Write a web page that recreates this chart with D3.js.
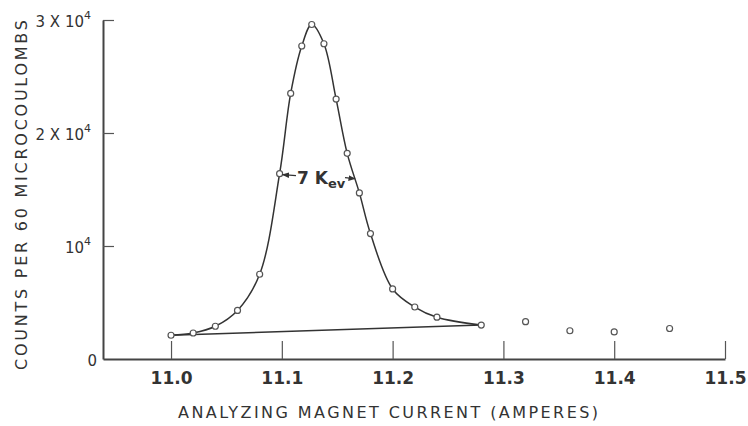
<!DOCTYPE html>
<html>
<head>
<meta charset="utf-8">
<script src="https://cdn.jsdelivr.net/npm/d3@7"></script>
<style>
    body { margin: 0; background: #fff; }
    #chart { width: 748px; height: 426px; }
    text { font-family: "DejaVu Sans", "Liberation Sans", sans-serif; fill: #333; }
</style>
</head>
<body>
<div id="chart"></div>
<script>

// peak scan (points joined by the smooth curve)
var peakCurrent = [11.0, 11.02, 11.04, 11.06, 11.08, 11.098, 11.108, 11.118, 11.127, 11.138, 11.149, 11.159, 11.17, 11.18, 11.2, 11.22, 11.24, 11.28];
var peakCounts = [2100, 2300, 2900, 4300, 7500, 16400, 23500, 27700, 29600, 27900, 23000, 18200, 14700, 11100, 6200, 4600, 3700, 3000];

// points past the peak, not joined
var tailCurrent = [11.32, 11.36, 11.40, 11.45];
var tailCounts = [3300, 2500, 2400, 2700];

var xTicks = [11.0, 11.1, 11.2, 11.3, 11.4, 11.5];
var xTickLabels = ["11.0", "11.1", "11.2", "11.3", "11.4", "11.5"];
var yTicks = [0, 10000, 20000, 30000];
var yTickBase = ["0", "10", "2 X 10", "3 X 10"];
var yTickExp = ["", "4", "4", "4"];

var chart = {};
chart.width = 748;
chart.height = 426;

chart.svg = d3.select("#chart")
    .append("svg")
    .attr("width", chart.width)
    .attr("height", chart.height);

/*
SCALES
*/
chart.xScale = d3.scaleLinear()
    .domain([10.9386, 11.5])
    .range([103, 725]);

chart.yScale = d3.scaleLinear()
    .domain([0, 30000])
    .range([359, 20]);

/*
AXES
*/
chart.xAxis = chart.svg.append("g")
    .attr("transform", "translate(0," + chart.yScale(0) + ")")
    .call(d3.axisBottom(chart.xScale)
        .tickValues(xTicks)
        .tickSizeInner(-18)
        .tickSizeOuter(0)
        .tickPadding(13)
        .tickFormat(function(d, i) { return xTickLabels[i]; }));

chart.xAxis.select(".domain").attr("stroke", "#444").attr("stroke-width", 2);
chart.xAxis.selectAll(".tick line").attr("stroke", "#555").attr("stroke-width", 1.2);
chart.xAxis.selectAll(".tick text")
    .attr("font-size", 17)
    .attr("font-weight", "bold")
    .attr("font-family", "'DejaVu Sans Condensed', 'DejaVu Sans', sans-serif")
    .attr("fill", "#333");

chart.yAxis = chart.svg.append("g")
    .attr("transform", "translate(" + chart.xScale.range()[0] + ",0)")
    .call(d3.axisLeft(chart.yScale)
        .tickValues(yTicks)
        .tickSizeInner(-11)
        .tickSizeOuter(0)
        .tickFormat(""));

chart.yAxis.select(".domain").attr("stroke", "#444").attr("stroke-width", 2);
chart.yAxis.selectAll(".tick line").attr("stroke", "#555").attr("stroke-width", 1.2)
    .filter(function(d) { return d === 0; }).remove();

// tick labels with a raised exponent
chart.yAxis.selectAll(".tick").each(function(d, i) {
    var t = d3.select(this).append("text")
        .attr("x", yTickExp[i] ? -12 : -6)
        .attr("y", 6)
        .attr("text-anchor", "end")
        .attr("font-size", 15)
        .attr("fill", "#333");
    t.append("tspan").text(yTickBase[i]);
    if (yTickExp[i]) {
        t.append("tspan")
            .attr("dy", -8)
            .attr("font-size", 11)
            .text(yTickExp[i]);
    }
});

/*
AXIS TITLES
*/
chart.svg.append("text")
    .attr("x", 178)
    .attr("y", 418)
    .attr("font-size", 16)
    .attr("textLength", 420)
    .attr("lengthAdjust", "spacing")
    .text("ANALYZING MAGNET CURRENT (AMPERES)");

chart.svg.append("text")
    .attr("transform", "translate(27,370) rotate(-90)")
    .attr("font-size", 16)
    .attr("textLength", 350)
    .attr("lengthAdjust", "spacing")
    .text("COUNTS PER 60 MICROCOULOMBS");

/*
CURVE + BACKGROUND LINE
*/
var peak = peakCurrent.map(function(c, i) { return { x: c, y: peakCounts[i] }; });
var tail = tailCurrent.map(function(c, i) { return { x: c, y: tailCounts[i] }; });

chart.line = d3.line()
    .x(function(d) { return chart.xScale(d.x); })
    .y(function(d) { return chart.yScale(d.y); })
    .curve(d3.curveCatmullRom.alpha(0.5));

chart.svg.append("path")
    .datum(peak)
    .attr("d", chart.line)
    .attr("fill", "none")
    .attr("stroke", "#333")
    .attr("stroke-width", 1.5);

chart.svg.append("path")
    .datum([peak[0], peak[peak.length - 1]])
    .attr("d", d3.line()
        .x(function(d) { return chart.xScale(d.x); })
        .y(function(d) { return chart.yScale(d.y); }))
    .attr("fill", "none")
    .attr("stroke", "#333")
    .attr("stroke-width", 1.5);

/*
POINTS
*/
chart.svg.selectAll("circle.pt")
    .data(peak.concat(tail))
    .enter()
    .append("circle")
    .attr("class", "pt")
    .attr("cx", function(d) { return chart.xScale(d.x); })
    .attr("cy", function(d) { return chart.yScale(d.y); })
    .attr("r", 3)
    .attr("fill", "#fff")
    .attr("stroke", "#555")
    .attr("stroke-width", 1.2);

/*
WIDTH ANNOTATION
*/
chart.svg.append("defs").append("marker")
    .attr("id", "arrow")
    .attr("viewBox", "0 0 10 10")
    .attr("refX", 9)
    .attr("refY", 5)
    .attr("markerWidth", 6)
    .attr("markerHeight", 6)
    .attr("orient", "auto")
    .append("path")
    .attr("d", "M0,1 L10,5 L0,9 Z")
    .attr("fill", "#333");

var annY = chart.yScale(16400);
chart.svg.append("line")
    .attr("x1", 296).attr("y1", annY + 2)
    .attr("x2", chart.xScale(11.098) + 3).attr("y2", annY + 1)
    .attr("stroke", "#333").attr("stroke-width", 1.2)
    .attr("marker-end", "url(#arrow)");

chart.svg.append("line")
    .attr("x1", 345).attr("y1", annY + 4)
    .attr("x2", chart.xScale(11.166)).attr("y2", annY + 5)
    .attr("stroke", "#333").attr("stroke-width", 1.2)
    .attr("marker-end", "url(#arrow)");

var ann = chart.svg.append("text")
    .attr("x", 297)
    .attr("y", annY + 10)
    .attr("font-size", 17)
    .attr("font-weight", "bold")
    .attr("font-family", "'DejaVu Sans Condensed', 'DejaVu Sans', sans-serif")
    .attr("fill", "#333");
ann.append("tspan").text("7 K");
ann.append("tspan").attr("dy", 4).attr("font-size", 13).text("ev");

</script>
</body>
</html>
